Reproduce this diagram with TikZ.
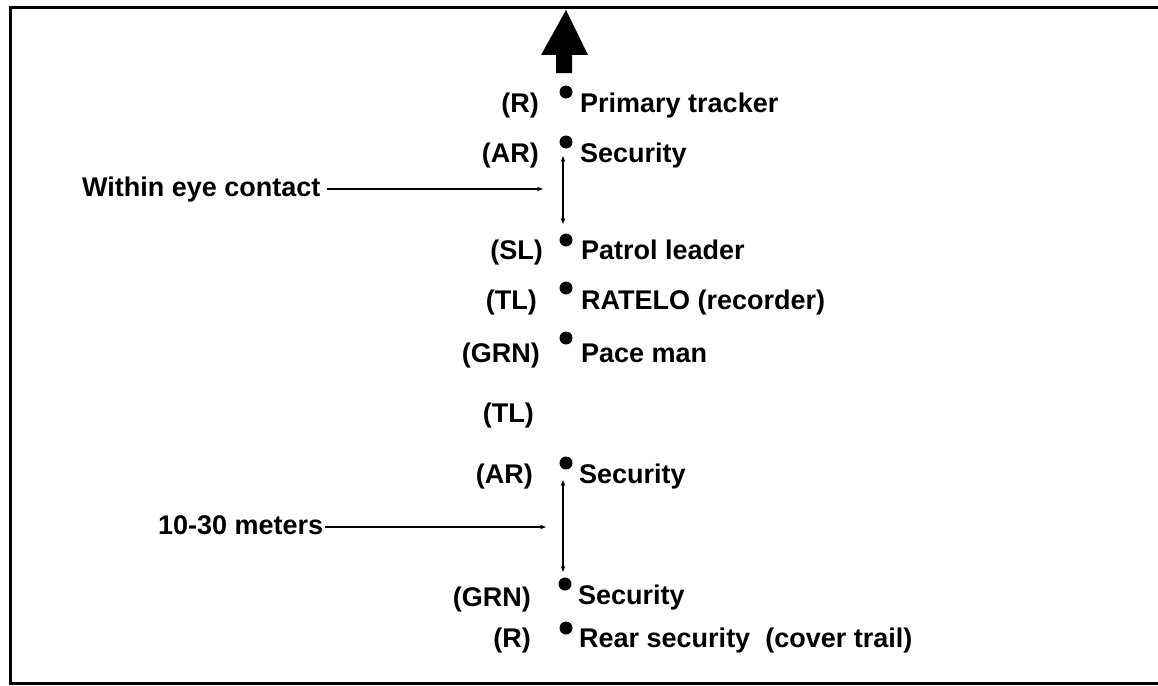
\documentclass[tikz,border=0pt]{standalone}
\usepackage{fontspec}
\setmainfont{Liberation Sans}
\usetikzlibrary{arrows.meta}
\begin{document}
\begin{tikzpicture}[x=1pt,y=-1pt,
  txt/.style={inner sep=0pt,anchor=base west,font=\fontsize{27}{30}\selectfont\bfseries},
  lab/.style={inner sep=0pt,anchor=base east,font=\fontsize{27}{30}\selectfont\bfseries},
  dotmark/.style={circle,fill=black,inner sep=0pt,minimum size=13pt},
  conn/.style={line width=1.2pt,{Stealth[length=6pt,width=4.5pt]}-{Stealth[length=6pt,width=4.5pt]}},
  pointer/.style={line width=1.2pt,-{Stealth[length=6pt,width=4.5pt]}}]
\useasboundingbox (0,0) rectangle (1158,685);
% frame (open on the right)
\draw[line width=3pt] (1158,8) -- (10,8) -- (10,683) -- (1158,683);
% direction of movement arrow
\fill (566,10) -- (541,55) -- (556,55) -- (556,73) -- (572,73) -- (572,55) -- (588,55) -- cycle;
% dots
\node[dotmark] (d1) at (566,92) {};
\node[dotmark] (d2) at (566,142) {};
\node[dotmark] (d3) at (566,240) {};
\node[dotmark] (d4) at (566,288) {};
\node[dotmark] (d5) at (566,338) {};
\node[dotmark] (d7) at (566,463) {};
\node[dotmark] (d8) at (565,584) {};
\node[dotmark] (d9) at (566,628) {};
% member texts
\node[txt] (t1) at (580,112) {Primary tracker};
\node[txt] (t2) at (580,162) {Security};
\node[txt] (t3) at (581,259) {Patrol leader};
\node[txt] (t4) at (581,309) {RATELO (recorder)};
\node[txt] (t5) at (581,362) {Pace man};
\node[txt] (t7) at (579,483) {Security};
\node[txt] (t8) at (578,604) {Security};
\node[txt] (t9) at (579,647) {Rear security\ \ (cover trail)};
% weapon labels
\node[lab] (l1) at (539,112) {(R)};
\node[lab] (l2) at (539,162) {(AR)};
\node[lab] (l3) at (543,259) {(SL)};
\node[lab] (l4) at (537,309) {(TL)};
\node[lab] (l5) at (540,362) {(GRN)};
\node[lab] (l6) at (534,422) {(TL)};
\node[lab] (l7) at (533,483) {(AR)};
\node[lab] (l8) at (531,606) {(GRN)};
\node[lab] (l9) at (531,647) {(R)};
% distance annotations
\draw[conn,shorten <=14pt,shorten >=16pt] ([xshift=-3pt]d2.center) -- ([xshift=-3pt]d3.center);
\draw[conn,shorten <=17pt,shorten >=12pt] ([xshift=-3pt]d7.center) -- ([xshift=-2pt]d8.center);
\node[lab,anchor=base west] (w1) at (82,196) {Within eye contact};
\node[lab,anchor=base west] (w2) at (158,534) {10-30 meters};
\coordinate (h1) at (543,189);
\coordinate (h2) at (546,527);
\draw[pointer] (w1.east |- h1) ++(6,0) -- (h1);
\draw[pointer] (w2.east |- h2) ++(1,0) -- (h2);
\end{tikzpicture}
\end{document}
